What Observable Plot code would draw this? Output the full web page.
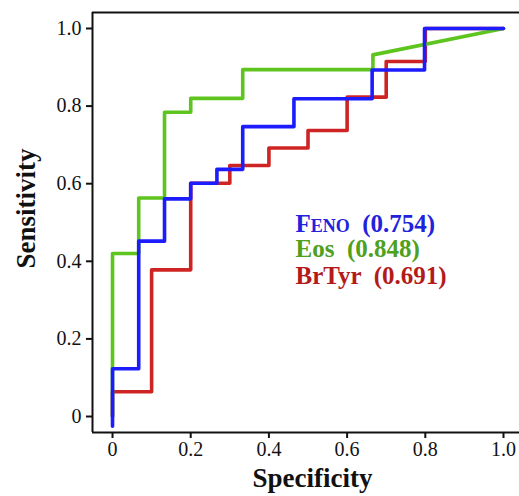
<!DOCTYPE html>
<html>
<head>
<meta charset="utf-8">
<script src="https://cdn.jsdelivr.net/npm/d3@7"></script>
<script src="https://cdn.jsdelivr.net/npm/@observablehq/plot@0.6"></script>
<style>
  html, body { margin: 0; padding: 0; background: #fff; }
  svg text { white-space: pre; }
</style>
</head>
<body>
<div id="chart"></div>
<script>
// ROC step curves (x = 1 - specificity as plotted, y = sensitivity)
const fenoX = [0, 0, 0.067, 0.067, 0.133, 0.133, 0.2, 0.2, 0.267, 0.267, 0.333, 0.333, 0.464, 0.464, 0.664, 0.664, 0.798, 0.798, 1.0];
const fenoY = [-0.025, 0.123, 0.123, 0.452, 0.452, 0.561, 0.561, 0.601, 0.601, 0.637, 0.637, 0.747, 0.747, 0.819, 0.819, 0.893, 0.893, 1.0, 1.0];

const eosX = [0, 0, 0.067, 0.067, 0.133, 0.133, 0.2, 0.2, 0.333, 0.333, 0.666, 0.666, 1.0];
const eosY = [0, 0.42, 0.42, 0.563, 0.563, 0.784, 0.784, 0.82, 0.82, 0.894, 0.894, 0.932, 1.0];

const brtyrX = [0, 0, 0.1, 0.1, 0.2, 0.2, 0.3, 0.3, 0.4, 0.4, 0.5, 0.5, 0.6, 0.6, 0.7, 0.7, 0.8, 0.8, 1.0];
const brtyrY = [0, 0.064, 0.064, 0.378, 0.378, 0.601, 0.601, 0.647, 0.647, 0.692, 0.692, 0.737, 0.737, 0.823, 0.823, 0.915, 0.915, 1.0, 1.0];

const seriesNames = ["Feno", "Eos", "BrTyr"];
const aucValues = ["0.754", "0.848", "0.691"];
const lineColors = ["#1c1cff", "#5ec41e", "#cf2424"];
const textColors = ["#2222dd", "#4fa01c", "#b41a1a"];

const tickValues = [0, 0.2, 0.4, 0.6, 0.8, 1.0];
const tickLabels = ["0", "0.2", "0.4", "0.6", "0.8", "1.0"];

const xLabel = "Specificity";
const yLabel = "Sensitivity";

const toRows = (xs, ys, name) => xs.map((x, i) => ({x, y: ys[i], name}));
const feno = toRows(fenoX, fenoY, "Feno");
const eos = toRows(eosX, eosY, "Eos");
const brtyr = toRows(brtyrX, brtyrY, "BrTyr");

const legend = seriesNames.map((n, i) => ({label: n + "  (" + aucValues[i] + ")", color: textColors[i], i}));

const xDom = [-0.0512, 1.0409];
const yDom = [-0.0412, 1.0412];
const fmt = d => tickLabels[tickValues.indexOf(d)] ?? d;
const serif = "'Liberation Serif', 'Times New Roman', serif";

const chart = Plot.plot({
  width: 519,
  height: 496,
  marginLeft: 92,
  marginRight: 0,
  marginTop: 12,
  marginBottom: 64,
  style: {fontFamily: serif, fontSize: "20px", color: "#111", background: "#fff", overflow: "visible"},
  x: {domain: xDom},
  y: {domain: yDom},
  marks: [
    Plot.axisX({ticks: tickValues, tickFormat: fmt, tickSize: 6, tickPadding: 3, strokeWidth: 2, label: null, fontSize: 20}),
    Plot.axisY({ticks: tickValues, tickFormat: fmt, tickSize: 6, tickPadding: 5, strokeWidth: 2, label: null, fontSize: 20}),
    Plot.ruleX([xDom[0]], {stroke: "#111", strokeWidth: 2}),
    Plot.ruleY([yDom[0], yDom[1]], {stroke: "#111", strokeWidth: 2}),
    Plot.line(brtyr, {x: "x", y: "y", stroke: lineColors[2], strokeWidth: 3.6, curve: "linear"}),
    Plot.line(eos, {x: "x", y: "y", stroke: lineColors[1], strokeWidth: 3.6, curve: "linear"}),
    Plot.line(feno, {x: "x", y: "y", stroke: lineColors[0], strokeWidth: 3.6, curve: "linear"}),
    Plot.text(legend.filter(d => d.i === 0), {x: () => 0.468, y: () => 0.4956, text: "label", fill: "color", textAnchor: "start", fontSize: 25, fontWeight: "bold", fontVariant: "small-caps", fontFamily: serif}),
    Plot.text(legend.filter(d => d.i > 0), {x: () => 0.468, y: d => d.i === 1 ? 0.431 : 0.363, text: "label", fill: "color", textAnchor: "start", fontSize: 25, fontWeight: "bold", fontFamily: serif}),
    Plot.text([xLabel], {x: () => 0.5115, y: () => -0.16, text: d => d, fontSize: 27, fontWeight: "bold", fill: "#111", fontFamily: serif}),
    Plot.text([yLabel], {x: () => -0.2215, y: () => 0.536, text: d => d, rotate: -90, fontSize: 27, fontWeight: "bold", fill: "#111", fontFamily: serif})
  ]
});
document.getElementById("chart").appendChild(chart);
</script>
</body>
</html>
